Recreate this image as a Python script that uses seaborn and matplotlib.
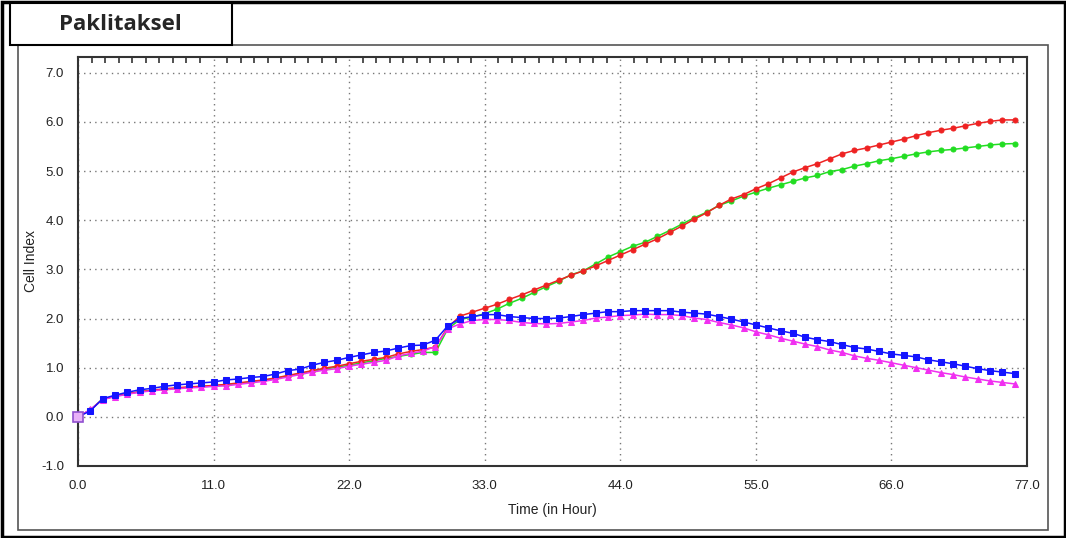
import matplotlib
matplotlib.use("Agg")
import matplotlib.pyplot as plt
import matplotlib.patches as mpatches
from matplotlib.ticker import MultipleLocator
import seaborn as sns
import numpy as np
import pandas as pd

# sampling grid (hours), one reading per hour
hours = np.arange(77)

blue = [0.00, 0.12, 0.37, 0.44, 0.50, 0.55, 0.58, 0.62, 0.65, 0.67,
        0.69, 0.71, 0.75, 0.77, 0.80, 0.82, 0.87, 0.94, 0.97, 1.05,
        1.11, 1.15, 1.21, 1.26, 1.31, 1.34, 1.40, 1.45, 1.46, 1.56,
        1.85, 2.00, 2.04, 2.08, 2.08, 2.04, 2.02, 2.00, 2.00, 2.01,
        2.04, 2.08, 2.11, 2.14, 2.14, 2.16, 2.16, 2.16, 2.16, 2.13,
        2.11, 2.09, 2.04, 1.99, 1.93, 1.87, 1.81, 1.75, 1.70, 1.62,
        1.57, 1.53, 1.47, 1.41, 1.38, 1.33, 1.28, 1.25, 1.22, 1.16,
        1.12, 1.08, 1.03, 0.98, 0.94, 0.91, 0.88]

magenta = [0.00, 0.15, 0.35, 0.41, 0.46, 0.50, 0.53, 0.55, 0.57, 0.59,
           0.60, 0.62, 0.63, 0.66, 0.69, 0.72, 0.76, 0.81, 0.86, 0.91,
           0.95, 0.98, 1.03, 1.07, 1.11, 1.15, 1.24, 1.29, 1.34, 1.43,
           1.79, 1.89, 1.96, 1.98, 1.98, 1.96, 1.92, 1.90, 1.89, 1.90,
           1.93, 1.96, 2.01, 2.03, 2.06, 2.07, 2.09, 2.08, 2.08, 2.06,
           2.01, 1.98, 1.92, 1.87, 1.81, 1.73, 1.67, 1.60, 1.54, 1.48,
           1.43, 1.36, 1.31, 1.24, 1.19, 1.15, 1.10, 1.05, 1.00, 0.95,
           0.90, 0.86, 0.81, 0.77, 0.73, 0.70, 0.67]

red = [0.00, 0.14, 0.36, 0.42, 0.47, 0.51, 0.54, 0.57, 0.59, 0.61,
       0.62, 0.64, 0.66, 0.69, 0.72, 0.75, 0.79, 0.84, 0.89, 0.94,
       0.99, 1.03, 1.08, 1.13, 1.17, 1.21, 1.28, 1.33, 1.37, 1.42,
       1.82, 2.05, 2.13, 2.21, 2.29, 2.39, 2.48, 2.58, 2.68, 2.78,
       2.88, 2.97, 3.07, 3.18, 3.29, 3.40, 3.51, 3.62, 3.75, 3.88,
       4.02, 4.15, 4.30, 4.43, 4.52, 4.64, 4.74, 4.86, 4.98, 5.07,
       5.15, 5.25, 5.35, 5.42, 5.47, 5.53, 5.59, 5.65, 5.72, 5.78,
       5.83, 5.87, 5.92, 5.97, 6.01, 6.04, 6.04]

green = [0.00, 0.14, 0.36, 0.42, 0.47, 0.51, 0.54, 0.56, 0.58, 0.60,
         0.62, 0.63, 0.65, 0.68, 0.71, 0.74, 0.78, 0.83, 0.88, 0.93,
         0.97, 1.01, 1.05, 1.10, 1.14, 1.19, 1.23, 1.27, 1.31, 1.31,
         1.79, 1.98, 2.03, 2.10, 2.19, 2.31, 2.41, 2.53, 2.65, 2.76,
         2.89, 2.97, 3.11, 3.25, 3.36, 3.47, 3.55, 3.67, 3.79, 3.92,
         4.05, 4.16, 4.30, 4.39, 4.49, 4.57, 4.65, 4.72, 4.79, 4.86,
         4.91, 4.99, 5.03, 5.10, 5.15, 5.21, 5.25, 5.30, 5.35, 5.39,
         5.42, 5.44, 5.47, 5.50, 5.53, 5.55, 5.56]

x_ticks = [0.0, 11.0, 22.0, 33.0, 44.0, 55.0, 66.0, 77.0]
y_ticks = [-1.0, 0.0, 1.0, 2.0, 3.0, 4.0, 5.0, 6.0, 7.0]

df = pd.concat([
    pd.DataFrame({'Time': hours, 'CI': green, 'Well': 'green'}),
    pd.DataFrame({'Time': hours, 'CI': red, 'Well': 'red'}),
    pd.DataFrame({'Time': hours, 'CI': magenta, 'Well': 'magenta'}),
    pd.DataFrame({'Time': hours, 'CI': blue, 'Well': 'blue'}),
])

sns.set_style('white')
plt.rcParams['font.family'] = ['Liberation Sans Narrow', 'Liberation Sans', 'DejaVu Sans']

W, H = 1066, 538
fig = plt.figure(figsize=(W / 100, H / 100), dpi=100)

# frames drawn in pixel coordinates
def px_rect(x0, y0, x1, y1, **kw):
    r = mpatches.Rectangle((x0 / W, 1 - y1 / H), (x1 - x0) / W, (y1 - y0) / H,
                           transform=fig.transFigure, **kw)
    fig.patches.append(r)

px_rect(18, 45, 1048, 530, fill=False, edgecolor='#555555', linewidth=1.2)
px_rect(1.5, 1.5, 1064.5, 536.5, fill=False, edgecolor='black', linewidth=2.5)
px_rect(10, 3, 232, 45, facecolor='white', edgecolor='black', linewidth=1.5)
fig.text(120 / W, 1 - 24 / H, 'Paklitaksel', ha='center', va='center',
         fontsize=16, fontweight='bold', family=['Open Sans', 'DejaVu Sans'])

ax = fig.add_axes([78 / W, 1 - 466 / H, 949 / W, (466 - 57) / H])

styles = {
    'green': dict(color='#22dd22', marker='o', markersize=3.6),
    'red': dict(color='#ee2222', marker='o', markersize=3.6),
    'magenta': dict(color='#f030f0', marker='^', markersize=4.6),
    'blue': dict(color='#1414ff', marker='s', markersize=4.6),
}
for name, st in styles.items():
    sns.lineplot(data=df[df['Well'] == name], x='Time', y='CI', ax=ax,
                 color=st['color'], marker=st['marker'], markersize=st['markersize'],
                 markeredgecolor=st['color'], linewidth=1.1, legend=False,
                 errorbar=None, zorder=3)

# start marker
ax.plot(hours[0], blue[0], marker='s', markersize=7, markerfacecolor='#e8b0f8',
        markeredgecolor='#9050d0', markeredgewidth=1.2, zorder=5, clip_on=False)

ax.set_xlim(0, 77)
ax.set_ylim(-1, 7.32)
ax.set_xticks(x_ticks)
ax.set_yticks(y_ticks)
ax.set_xticklabels([f'{v:.1f}' for v in x_ticks])
ax.set_yticklabels([f'{v:.1f}' for v in y_ticks])
ax.xaxis.set_minor_locator(MultipleLocator(1.1))
ax.yaxis.set_minor_locator(MultipleLocator(0.1))
ax.tick_params(axis='both', which='major', direction='in', length=8, width=1.5,
               labelsize=9.5, colors='#333333', labelcolor='#222222', pad=10)
ax.tick_params(axis='both', which='minor', direction='in', length=4, width=1.2,
               colors='#333333')
ax.tick_params(top=True, right=False, which='both')
ax.tick_params(axis='x', which='major', top=False)

ax.grid(True, which='major', linestyle=(0, (1, 3)), color='#777777', linewidth=1.0)
for s in ax.spines.values():
    s.set_color('#333333')
    s.set_linewidth(1.5)

ax.set_xlabel('Time (in Hour)', fontsize=10, color='#222222', labelpad=8)
ax.set_ylabel('Cell Index', fontsize=10, color='#222222', labelpad=2)

fig.savefig('out.png', dpi=100)
